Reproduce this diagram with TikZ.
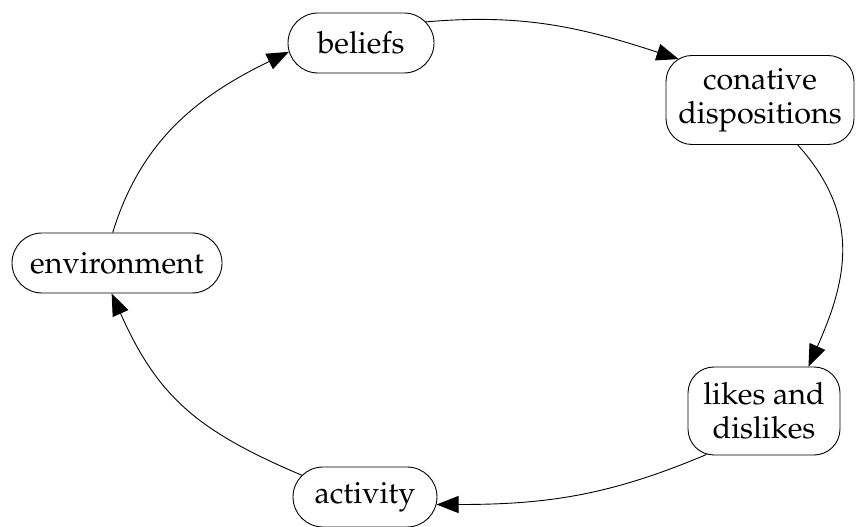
\documentclass[tikz,border=0pt]{standalone}
\usepackage[T1]{fontenc}
\usepackage{mathpazo}
\usetikzlibrary{arrows.meta, shapes.misc}
\tikzset{
  >={Triangle[length=22pt, width=17pt]},
  every picture/.style={line join=round, font=\fontsize{30.5}{34}\selectfont},
  % one-line states: pill shape, two-line states: box with round corners
  pill/.style={draw, line width=0.9pt, rounded rectangle, minimum height=60pt, inner xsep=0pt},
  card/.style={draw, line width=0.9pt, rounded corners=26pt, align=center, minimum height=89pt, inner xsep=0pt},
  link/.style={->, line width=0.9pt},
}

\begin{document}
\begin{tikzpicture}[x=1pt, y=1pt]
  \useasboundingbox (0,0) rectangle (859,527);
  % the states of the cycle
  \node[pill, minimum width=146pt] (beliefs) at (361,484) {beliefs};
  \node[card, minimum width=188pt] (cona) at (760,427) {conative\\dispositions};
  \node[card, minimum width=152pt, minimum height=88pt] (likes) at (764,116) {likes and\\dislikes};
  \node[pill, minimum width=144pt] (activity) at (365,30) {activity};
  \node[pill, minimum width=210pt] (env) at (117,264) {environment};
  % the cycle, clockwise
  \draw[link] (env.98) to[out=73, in=206] (beliefs.187);
  \draw[link] (beliefs.18) to[out=5, in=162] ([shift={(13pt,-4pt)}]cona.north west);
  \draw[link] (cona.-50) to[out=-48, in=66, looseness=1.1] (likes.45);
  \draw[link] ([shift={(19pt,1pt)}]likes.south west) to[out=203, in=0] (activity.-6);
  \draw[link] (activity.161) to[out=157, in=-66, looseness=1.1] (env.260);
\end{tikzpicture}
\end{document}
